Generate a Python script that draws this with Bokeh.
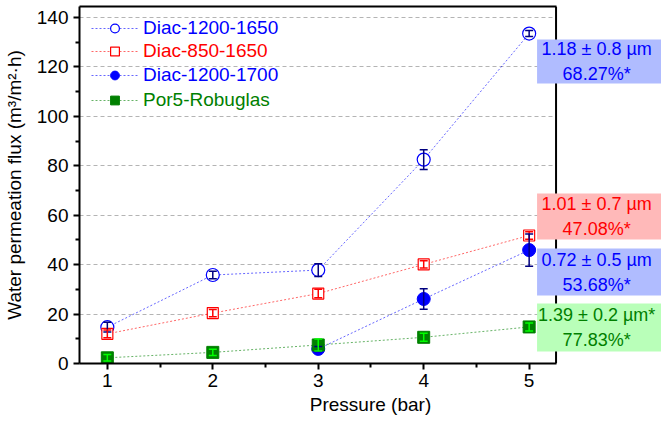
from bokeh.plotting import figure
from bokeh.models import (Range1d, LinearAxis, Whisker, ColumnDataSource, Legend, LegendItem,
                          BoxAnnotation, Label, FixedTicker, TeeHead, Span)
from bokeh.embed import file_html
from bokeh.resources import INLINE

# ---------------- data ----------------
pressure = [1, 2, 3, 4, 5]
series_names = ["Diac-1200-1650", "Diac-850-1650", "Diac-1200-1700", "Por5-Robuglas"]

flux_1200_1650 = [14.7, 35.8, 37.8, 82.5, 133.5]
err_1200_1650 = [2.0, 1.5, 2.6, 4.0, 1.2]

flux_850_1650 = [12.0, 20.4, 28.3, 40.1, 51.8]
err_850_1650 = [1.6, 1.5, 1.7, 1.5, 1.5]

pressure_1200_1700 = [3, 4, 5]
flux_1200_1700 = [5.9, 26.1, 45.9]
err_1200_1700 = [1.0, 4.1, 6.5]

flux_por5 = [2.3, 4.5, 7.5, 10.6, 14.8]
err_por5 = [1.3, 1.3, 2.4, 1.6, 1.6]

x_ticks = [1, 2, 3, 4, 5]
x_minor = [1.5, 2.5, 3.5, 4.5]
y_ticks = [0, 20, 40, 60, 80, 100, 120, 140]
y_minor = [10, 30, 50, 70, 90, 110, 130]

note_texts = ["1.18 \u00b1 0.8 \u00b5m\n68.27%*",
              "1.01 \u00b1 0.7 \u00b5m\n47.08%*",
              "0.72 \u00b1 0.5 \u00b5m\n53.68%*",
              "1.39 \u00b1 0.2 \u00b5m*\n77.83%*"]
note_top = [131.1, 68.8, 46.5, 24.3]
note_bottom = [113.3, 50.2, 27.5, 4.9]

# ---------------- styles ----------------
FONT = "Liberation Sans"
BLUE = "#0000ff"
RED = "#ff0000"
GREEN = "#008000"
NAVY = "#000080"
LIME = "#00ff00"

X0, X1 = 0.736, 5.255  # axis box limits

p = figure(width=661, height=421, x_range=Range1d(X0, 6.255), y_range=Range1d(0, 144.45),
           output_backend="svg", toolbar_location=None,
           min_border_left=76, min_border_right=0, min_border_top=6, min_border_bottom=58)
p.outline_line_color = None
p.background_fill_color = "white"

xax = p.below[0]
yax = p.left[0]
xax.ticker = FixedTicker(ticks=x_ticks, minor_ticks=x_minor)
yax.ticker = FixedTicker(ticks=y_ticks, minor_ticks=y_minor)
xax.bounds = (X0, X1)
for ax in (xax, yax):
    ax.axis_line_width = 2
    ax.axis_line_color = "black"
    ax.major_tick_line_width = 2
    ax.minor_tick_line_width = 2
    ax.major_tick_in = 0
    ax.major_tick_out = 6
    ax.minor_tick_in = 0
    ax.minor_tick_out = 4
    ax.major_label_text_font = FONT
    ax.major_label_text_font_size = "19px"
    ax.major_label_text_color = "black"
    ax.axis_label_text_font = FONT
    ax.axis_label_text_font_size = "19px"
    ax.axis_label_text_font_style = "normal"
    ax.axis_label_text_color = "black"
xax.axis_label = "Pressure (bar)"
yax.axis_label = "Water permeation flux (m\u00b3/m\u00b2\u00b7h)"
xax.major_label_standoff = 4
yax.major_label_standoff = 5
xax.axis_label_standoff = 4
yax.axis_label_standoff = 9

p.xgrid.visible = False
p.ygrid.ticker = FixedTicker(ticks=y_ticks)
p.ygrid.grid_line_color = "#b4b4b4"
p.ygrid.grid_line_dash = "4 3"
p.ygrid.grid_line_width = 1

# top spine (limited to the axis box)
top = LinearAxis(ticker=FixedTicker(ticks=[]), axis_line_width=2, axis_line_color="black",
                 major_tick_line_color=None, minor_tick_line_color=None,
                 major_label_text_font_size="0px", bounds=(X0, X1))
p.add_layout(top, "above")

# white cover so grid lines stop at the right spine
p.add_layout(BoxAnnotation(left=X1, fill_color="white", fill_alpha=1, line_color=None, level="underlay"))

# ---------------- series ----------------
l1 = p.line(pressure, flux_1200_1650, line_color=BLUE, line_alpha=0.6, line_width=1, line_dash="2 2")
l2 = p.line(pressure, flux_850_1650, line_color=RED, line_alpha=0.6, line_width=1, line_dash="2 2")
l3 = p.line(pressure_1200_1700, flux_1200_1700, line_color=BLUE, line_alpha=0.6, line_width=1, line_dash="2 2")
l4 = p.line(pressure, flux_por5, line_color=GREEN, line_alpha=0.6, line_width=1, line_dash="2 2")

s1 = p.scatter(pressure, flux_1200_1650, marker="circle", size=13, line_color=BLUE, line_width=1.2,
               fill_color="white")
s2 = p.scatter(pressure, flux_850_1650, marker="square", size=11, line_color=RED, line_width=1.2,
               fill_color="white")
s3 = p.scatter(pressure_1200_1700, flux_1200_1700, marker="circle", size=13, line_color=BLUE,
               fill_color=BLUE)
s4 = p.scatter(pressure, flux_por5, marker="square", size=12, line_color=GREEN, fill_color=GREEN)


def add_err(xs, ys, es, color):
    src = ColumnDataSource(dict(x=xs, lo=[y - e for y, e in zip(ys, es)], hi=[y + e for y, e in zip(ys, es)]))
    w = Whisker(source=src, base="x", lower="lo", upper="hi", line_color=color, line_width=1.5,
                upper_head=TeeHead(size=8, line_color=color, line_width=1.5),
                lower_head=TeeHead(size=8, line_color=color, line_width=1.5),
                level="glyph")
    p.add_layout(w)


add_err(pressure, flux_1200_1650, err_1200_1650, NAVY)
add_err(pressure, flux_850_1650, err_850_1650, RED)
add_err(pressure_1200_1700, flux_1200_1700, err_1200_1700, NAVY)
add_err(pressure, flux_por5, err_por5, LIME)

# right spine
p.add_layout(Span(location=X1, dimension="height", line_color="black", line_width=2))

# ---------------- legends (one per entry for coloured labels) ----------------
legend_colors = [BLUE, RED, BLUE, GREEN]
legend_bottoms = [324, 301, 277, 252]
for name, rs, col, yb in zip(series_names, [[l1, s1], [l2, s2], [l3, s3], [l4, s4]],
                             legend_colors, legend_bottoms):
    lg = Legend(items=[LegendItem(label=name, renderers=rs)], location=(12, yb),
                label_text_color=col, label_text_font=FONT, label_text_font_size="19px",
                glyph_width=47, glyph_height=22, label_height=22, label_standoff=5,
                padding=0, margin=0, spacing=0, border_line_color=None, background_fill_alpha=0)
    p.add_layout(lg, "center")

# ---------------- annotation boxes ----------------
note_fill = ["#b0bcff", "#ffb9b9", "#b0bcff", "#b9ffb9"]
note_color = [BLUE, RED, BLUE, GREEN]
for txt, top_v, bot_v, fc, tc in zip(note_texts, note_top, note_bottom, note_fill, note_color):
    p.add_layout(BoxAnnotation(left=5.075, top=top_v, bottom=bot_v, fill_color=fc,
                               fill_alpha=1, line_color=None))
    p.add_layout(Label(x=5.64, y=(top_v + bot_v) / 2, text=txt, text_align="center",
                       text_baseline="middle", text_font=FONT, text_font_size="18px",
                       text_color=tc, text_line_height=1.25))

open("out.html", "w").write(file_html(p, INLINE))
